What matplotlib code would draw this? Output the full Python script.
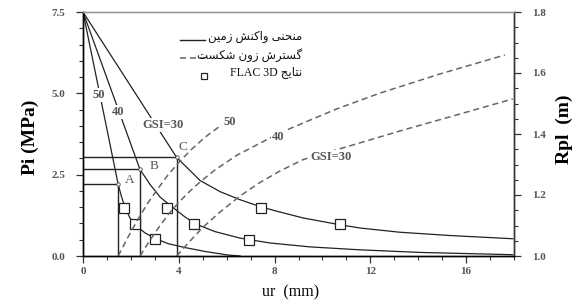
import numpy as np
import matplotlib
matplotlib.use('Agg')
import matplotlib.pyplot as plt
from matplotlib.ticker import MultipleLocator

plt.rcParams['font.family'] = ['Liberation Serif', 'DejaVu Sans']

# ground reaction curves (Pi vs ur)
ur50 = [0, 1.47, 1.59, 1.75, 1.96, 2.21, 2.59, 3.01, 3.55, 4.26, 5.09, 6.05, 6.56]
pi50 = [7.5, 2.20, 1.87, 1.50, 1.17, 0.93, 0.71, 0.54, 0.38, 0.26, 0.14, 0.03, 0.0]

ur40 = [0, 2.38, 2.80, 3.22, 3.72, 4.26, 4.72, 5.51, 6.56, 7.81, 9.48, 11.56, 14.07, 17.95]
pi40 = [7.5, 2.66, 2.20, 1.81, 1.51, 1.20, 0.98, 0.75, 0.55, 0.40, 0.28, 0.19, 0.11, 0.04]

ur30 = [0, 3.91, 4.34, 4.89, 5.72, 6.56, 7.43, 8.23, 9.19, 10.73, 11.57, 13.24, 15.32, 17.95]
pi30 = [7.5, 3.03, 2.72, 2.32, 1.98, 1.73, 1.51, 1.35, 1.17, 0.96, 0.86, 0.73, 0.63, 0.53]

# plastic zone radius (Rpl vs ur)
rur50 = [1.47, 1.88, 2.30, 2.71, 3.13, 3.55, 4.05, 4.55, 5.09, 5.79]
rpl50 = [1.0, 1.062, 1.121, 1.174, 1.221, 1.266, 1.311, 1.351, 1.389, 1.43]

rur40 = [2.38, 2.80, 3.22, 3.63, 4.05, 4.47, 4.89, 5.51, 6.42, 7.81, 8.71, 10.59, 12.40, 14.91, 17.62]
rpl40 = [1.0, 1.052, 1.100, 1.143, 1.180, 1.213, 1.243, 1.282, 1.330, 1.387, 1.420, 1.482, 1.534,
         1.597, 1.659]

rur30 = [3.91, 4.47, 5.02, 5.72, 6.56, 7.39, 8.23, 9.19, 11.27, 13.24, 16.03, 17.95]
rpl30 = [1.0, 1.049, 1.095, 1.144, 1.197, 1.241, 1.279, 1.316, 1.364, 1.41, 1.472, 1.515]

# FLAC 3D results
flac_ur = [1.71, 2.17, 3.0, 3.49, 4.65, 6.94, 7.43, 10.73]
flac_pi = [1.49, 0.98, 0.51, 1.49, 0.98, 0.49, 1.49, 0.98]

# critical points A, B, C
crit_ur = [1.47, 2.38, 3.91]
crit_pi = [2.20, 2.66, 3.03]
crit_names = ['A', 'B', 'C']

# --- simple persian shaping (matplotlib has no RTL / joining) ---
FORMS = {
    '\u0627': ('\uFE8D', '\uFE8E', None, None),
    '\u062A': ('\uFE95', '\uFE96', '\uFE97', '\uFE98'),
    '\u062C': ('\uFE9D', '\uFE9E', '\uFE9F', '\uFEA0'),
    '\u062D': ('\uFEA1', '\uFEA2', '\uFEA3', '\uFEA4'),
    '\u0631': ('\uFEAD', '\uFEAE', None, None),
    '\u0632': ('\uFEAF', '\uFEB0', None, None),
    '\u0633': ('\uFEB1', '\uFEB2', '\uFEB3', '\uFEB4'),
    '\u0634': ('\uFEB5', '\uFEB6', '\uFEB7', '\uFEB8'),
    '\u0645': ('\uFEE1', '\uFEE2', '\uFEE3', '\uFEE4'),
    '\u0646': ('\uFEE5', '\uFEE6', '\uFEE7', '\uFEE8'),
    '\u0648': ('\uFEED', '\uFEEE', None, None),
    '\u06CC': ('\uFBFC', '\uFBFD', '\uFBFE', '\uFBFF'),
    '\u06A9': ('\uFB8E', '\uFB8F', '\uFB90', '\uFB91'),
    '\u06AF': ('\uFB92', '\uFB93', '\uFB94', '\uFB95'),
}


def shape(text):
    out = []
    for i, ch in enumerate(text):
        f = FORMS.get(ch)
        if f is None:
            out.append(ch)
            continue
        prev = text[i - 1] if i > 0 else None
        nxt = text[i + 1] if i < len(text) - 1 else None
        jp = prev in FORMS and FORMS[prev][2] is not None
        jn = f[2] is not None and nxt in FORMS
        if jp and jn:
            out.append(f[3])
        elif jp:
            out.append(f[1])
        elif jn:
            out.append(f[2])
        else:
            out.append(f[0])
    return ''.join(out)[::-1]


leg1 = shape('منحنی واکنش زمین')
leg2 = shape('گسترش زون شکست')
leg3 = 'FLAC 3D ' + shape('نتایج')

fig = plt.figure(figsize=(5.75, 3.03), dpi=100)
ax = fig.add_axes([83/575, 1-256/303, 431/575, 244/303])
ax2 = ax.twinx()

solid = dict(color='#222222', lw=0.9)
ax.plot(ur50, pi50, **solid)
ax.plot(ur40, pi40, **solid)
ax.plot(ur30, pi30, **solid)

for x, p in zip(crit_ur, crit_pi):
    ax.plot([0, x, x], [p, p, 0], color='#222222', lw=1.0)
    ax.plot(x, p, 'o', ms=2.5, mfc='white', mec='#444444', mew=0.6)

ax.plot(flac_ur, flac_pi, 's', ms=6.5, mfc='white', mec='#222222', mew=0.9,
        linestyle='none', zorder=5)

dash = dict(color='#666666', lw=1.1, dashes=(4, 2.5))
ax2.plot(rur50, rpl50, **dash)
ax2.plot(rur40, rpl40, **dash)
ax2.plot(rur30, rpl30, **dash)

lab = dict(fontsize=9, fontweight='bold', color='#555555', ha='center', va='center',
           bbox=dict(fc='white', ec='none', pad=0.6))
ax.text(0.67, 4.95, '50', **lab)
ax.text(1.46, 4.43, '40', **lab)
ax.text(3.34, 4.03, 'GSI=30', **lab)
ax2.text(6.14, 1.439, '50', zorder=6, **lab)
ax2.text(8.14, 1.39, '40', zorder=6, **lab)
ax2.text(10.35, 1.325, 'GSI=30', zorder=6, **lab)

offsets = [(8.5, 3), (10, 2.5), (4.5, 7.5)]
for x, p, n, off in zip(crit_ur, crit_pi, crit_names, offsets):
    ax.annotate(n, (x, p), xytext=off, textcoords='offset points',
                fontsize=9.5, color='#555555', ha='center', va='center')

ax.set_xlim(0, 18)
ax.set_ylim(0, 7.5)
ax2.set_ylim(1.0, 1.8)

ax.set_xticks([0, 4, 8, 12, 16])
ax.set_yticks([0, 2.5, 5.0, 7.5])
ax.set_yticklabels(['0.0', '2.5', '5.0', '7.5'])
ax2.set_yticks([1.0, 1.2, 1.4, 1.6, 1.8])
ax.xaxis.set_minor_locator(MultipleLocator(1))
ax.yaxis.set_minor_locator(MultipleLocator(0.5))
ax2.yaxis.set_minor_locator(MultipleLocator(0.05))

tk = dict(labelsize=8, labelcolor='#555555', color='#333333', direction='out')
ax.tick_params(axis='both', which='major', length=5, width=0.9, pad=3, **tk)
ax.tick_params(axis='both', which='minor', length=3, width=0.8, direction='out', color='#333333')
ax.tick_params(axis='y', which='major', pad=8)
ax2.tick_params(axis='y', which='major', length=5, width=0.9, pad=8, **tk)
ax2.tick_params(axis='y', which='minor', length=3, width=0.8, direction='out', color='#333333')
for a in (ax, ax2):
    for t in a.get_xticklabels() + a.get_yticklabels():
        t.set_fontweight('bold')
    a.spines['top'].set_color('#999999')
    for s in ('top', 'left', 'bottom', 'right'):
        a.spines[s].set_linewidth(1.0)
    a.spines['right'].set_color('#333333')

# legend
rows = [0.885, 0.811, 0.738]
ax.plot([0.225, 0.283], [rows[0], rows[0]], transform=ax.transAxes, color='#222222', lw=1.0)
ax.plot([0.225, 0.283], [rows[1], rows[1]], transform=ax.transAxes, **dash)
ax.plot([0.281], [rows[2]], 's', transform=ax.transAxes, ms=4.5, mfc='white',
        mec='#222222', mew=0.9)
for r, s in zip(rows, [leg1, leg2, leg3]):
    ax.text(0.508, r + 0.012, s, transform=ax.transAxes, ha='right', va='center',
            fontsize=8.5, color='#111111')

fig.text(30/575, 1-137/303, 'Pi (MPa)', rotation=90, ha='center', va='center',
         fontsize=14, fontweight='bold')
fig.text(564/575, 1-129/303, 'Rpl  (m)', rotation=90, ha='center', va='center',
         fontsize=14, fontweight='bold')
fig.text(291/575, 1-292/303, 'ur  (mm)', ha='center', va='center', fontsize=11.5)

fig.savefig('out.png', dpi=100)
